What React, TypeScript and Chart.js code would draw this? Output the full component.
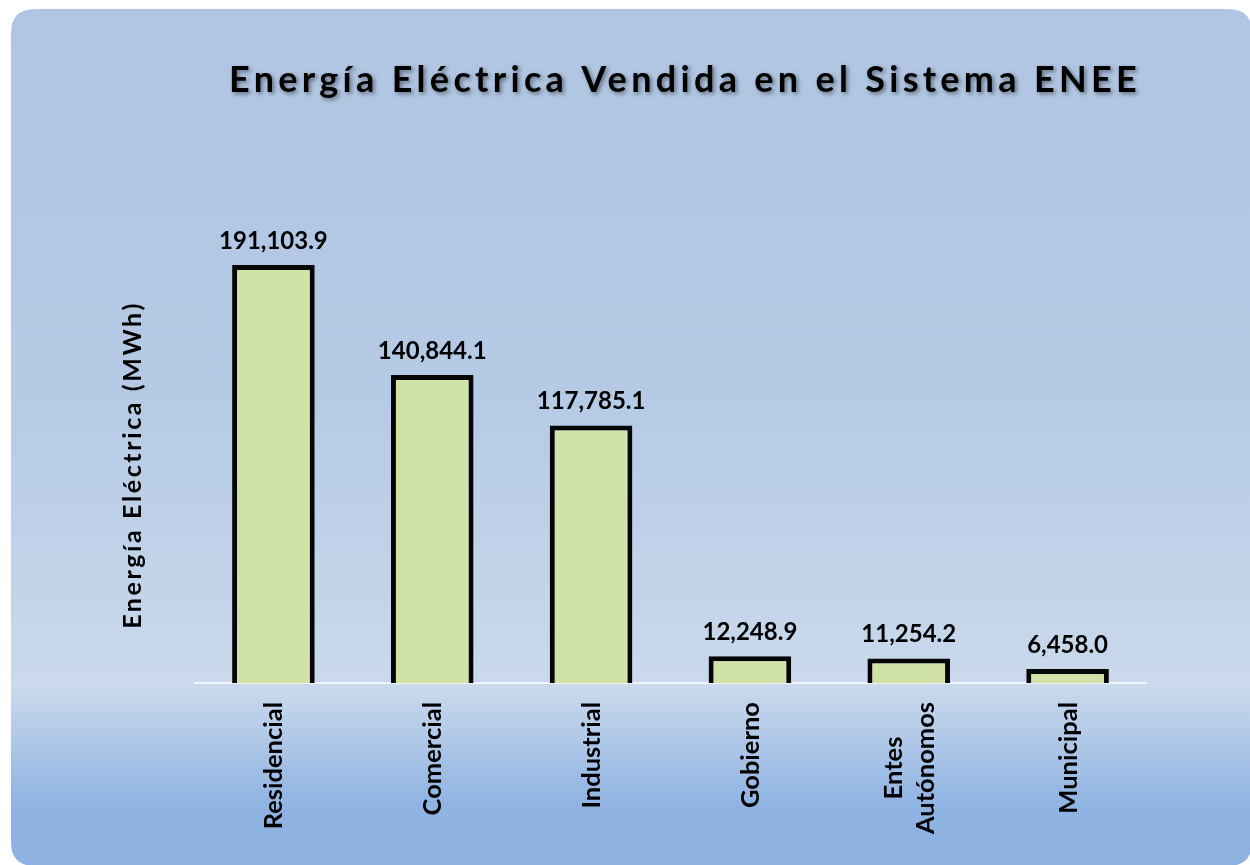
import React, { useEffect, useRef } from "react";
import { Chart, registerables } from "chart.js";

Chart.register(...registerables);

const chartTitle = "Energía Eléctrica Vendida en el Sistema ENEE";
const yAxisTitle = "Energía Eléctrica (MWh)";
const categories: (string | string[])[] = [
  "Residencial",
  "Comercial",
  "Industrial",
  "Gobierno",
  ["Entes", "Autónomos"],
  "Municipal",
];
const energySold = [191103.9, 140844.1, 117785.1, 12248.9, 11254.2, 6458.0];
const yMin = 0;
const yMax = 200000;

const FONT = 'Lato, "Open Sans", "DejaVu Sans", sans-serif';

const fmt = (v: number) =>
  v.toLocaleString("en-US", { minimumFractionDigits: 1, maximumFractionDigits: 1 });

const decorPlugin = {
  id: "decor",
  beforeDraw(chart: any) {
    const { ctx } = chart;
    ctx.save();
    const x = 11, y = 9, w = 1241, h = 857, r = 24;
    const g = ctx.createLinearGradient(0, y, 0, y + h);
    g.addColorStop(0, "#afc5e2");
    g.addColorStop(0.45, "#b5cae5");
    g.addColorStop(0.79, "#cad9ec");
    g.addColorStop(0.93, "#8fb3e2");
    g.addColorStop(1, "#8db1e1");
    ctx.fillStyle = g;
    ctx.beginPath();
    ctx.moveTo(x + r, y);
    ctx.lineTo(x + w - r, y);
    ctx.quadraticCurveTo(x + w, y, x + w, y + r);
    ctx.lineTo(x + w, y + h - r);
    ctx.quadraticCurveTo(x + w, y + h, x + w - r, y + h);
    ctx.lineTo(x + r, y + h);
    ctx.quadraticCurveTo(x, y + h, x, y + h - r);
    ctx.lineTo(x, y + r);
    ctx.quadraticCurveTo(x, y, x + r, y);
    ctx.closePath();
    ctx.fill();

    // title with letter spacing and shadow
    ctx.font = `bold 36px ${FONT}`;
    (ctx as any).letterSpacing = "4.3px";
    ctx.textAlign = "center";
    ctx.textBaseline = "alphabetic";
    ctx.shadowColor = "rgba(0,0,0,0.45)";
    ctx.shadowBlur = 4;
    ctx.shadowOffsetX = 2;
    ctx.shadowOffsetY = 2;
    ctx.fillStyle = "#000";
    ctx.fillText(chartTitle, 685, 92);
    ctx.restore();

    // y axis title
    ctx.save();
    ctx.font = `bold 25px ${FONT}`;
    (ctx as any).letterSpacing = "2.6px";
    ctx.fillStyle = "#000";
    ctx.translate(141, 465);
    ctx.rotate(-Math.PI / 2);
    ctx.textAlign = "center";
    ctx.textBaseline = "alphabetic";
    ctx.fillText(yAxisTitle, 0, 0);
    ctx.restore();
  },
  beforeDatasetsDraw(chart: any) {
    const { ctx, chartArea } = chart;
    const yScale = chart.scales.y;
    const y0 = yScale.getPixelForValue(0);
    ctx.save();
    ctx.strokeStyle = "rgba(255,255,255,0.75)";
    ctx.lineWidth = 2;
    ctx.beginPath();
    ctx.moveTo(chartArea.left, y0);
    ctx.lineTo(chartArea.right, y0);
    ctx.stroke();
    ctx.restore();
  },
  afterDatasetsDraw(chart: any) {
    const { ctx } = chart;
    const meta = chart.getDatasetMeta(0);
    const xScale = chart.scales.x;
    const yScale = chart.scales.y;
    const y0 = yScale.getPixelForValue(0);
    ctx.save();
    ctx.fillStyle = "#000";
    // value labels
    ctx.font = `bold 24px ${FONT}`;
    ctx.textAlign = "center";
    ctx.textBaseline = "alphabetic";
    meta.data.forEach((bar: any, i: number) => {
      ctx.fillText(fmt(energySold[i]), bar.x, bar.y - 16);
    });
    // category labels, rotated
    ctx.font = `bold 25.5px ${FONT}`;
    const lineGap = 32;
    categories.forEach((cat, i) => {
      const lines = Array.isArray(cat) ? cat : [cat];
      const cx = xScale.getPixelForValue(i);
      const maxW = Math.max(...lines.map((l) => ctx.measureText(l).width));
      const n = lines.length;
      lines.forEach((line, j) => {
        const off = (j - (n - 1) / 2) * lineGap + 9;
        ctx.save();
        ctx.translate(cx + off, y0 + 19);
        ctx.rotate(-Math.PI / 2);
        ctx.textAlign = "center";
        ctx.fillText(line, -maxW / 2, 0);
        ctx.restore();
      });
    });
    ctx.restore();
  },
};

export default function App() {
  const ref = useRef<HTMLCanvasElement | null>(null);
  useEffect(() => {
    if (!ref.current) return;
    const chart = new Chart(ref.current, {
      type: "bar",
      data: {
        labels: categories as any,
        datasets: [
          {
            data: energySold,
            backgroundColor: "#d1e2a6",
            borderColor: "#050505",
            borderWidth: 5,
            borderSkipped: "bottom",
            barPercentage: 0.52,
            categoryPercentage: 1,
          },
        ],
      },
      options: {
        responsive: false,
        animation: false,
        devicePixelRatio: 1,
        layout: { padding: { left: 194, right: 103, top: 245.6, bottom: 182 } },
        plugins: {
          legend: { display: false },
          title: { display: false },
          tooltip: { enabled: false },
        },
        scales: {
          x: { display: false },
          y: { display: false, min: yMin, max: yMax },
        },
      },
      plugins: [decorPlugin],
    });
    return () => chart.destroy();
  }, []);
  return (
    <div style={{ position: "absolute", left: 0, top: 0, width: 1250, height: 865 }}>
      <canvas ref={ref} width={1250} height={865} style={{ display: "block" }} />
    </div>
  );
}
